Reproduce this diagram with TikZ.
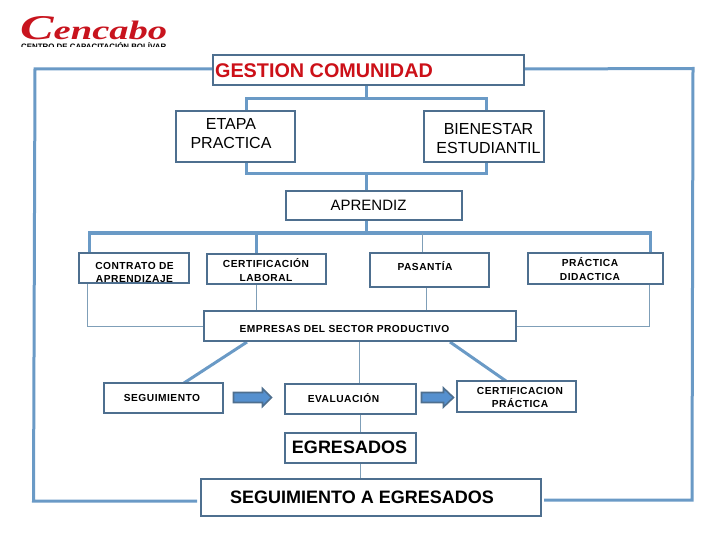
\documentclass[tikz,border=0pt]{standalone}
\usepackage{fontspec}
\setmainfont{Liberation Sans}
\newfontfamily\logofont{Liberation Serif}
\definecolor{boxline}{HTML}{4E6F8F}
\definecolor{link}{HTML}{6A9AC6}
\definecolor{thinlink}{HTML}{7F9FB8}
\definecolor{arrowfill}{HTML}{5590CF}
\definecolor{logored}{HTML}{C8141E}
\definecolor{titlered}{HTML}{CC1018}
% text inside a box, displaced from the box centre by dx, dy
\newcommand{\intxt}[4]{\raisebox{#2pt}[0pt][0pt]{\makebox[0pt]{\hspace*{#1pt}\hspace*{#1pt}#3\begin{tabular}[c]{@{}c@{}}#4\end{tabular}}}}
\newcommand{\bigtxt}[1]{\fontsize{#1}{19pt}\selectfont}
\newcommand{\smalltxt}{\fontsize{10.2}{13.5pt}\selectfont\bfseries\addfontfeature{LetterSpace=5}}
\begin{document}
\begin{tikzpicture}[x=1pt,y=-1pt,
  boxn/.style={draw=boxline,line width=2pt,fill=white,inner sep=0pt,outer sep=0pt},
  linkw/.style={draw=link,line width=3pt},
  linkt/.style={draw=thinlink,line width=1pt},
  blockarrow/.style={draw=boxline,fill=arrowfill,line width=1.6pt}]
\useasboundingbox (0,0) rectangle (720,540);
% junctions and ports
\coordinate (jgest) at (366,85);
\coordinate (jtop) at (366,99);
\coordinate (petop) at (246,111);
\coordinate (pbtop) at (486,111);
\coordinate (pebot) at (246,162);
\coordinate (pbbot) at (486,162);
\coordinate (jmid) at (366,174);
\coordinate (japr) at (366,191);
\coordinate (japrb) at (366,220);
\coordinate (jrow) at (366,233);
\coordinate (pcon) at (89,253);
\coordinate (pcer) at (256,254);
\coordinate (ppas) at (422,253);
\coordinate (ppra) at (650,253);
\coordinate (qcon) at (87.5,284);
\coordinate (qcer) at (256,284);
\coordinate (qpas) at (426,287);
\coordinate (qpra) at (649,284);
\coordinate (remp) at (426,311);
\coordinate (lemp) at (256,311);
\coordinate (yemp) at (300,326);
\coordinate (demp) at (247,342);
\coordinate (fseg) at (184,383);
\coordinate (gemp) at (450,342);
\coordinate (hcer) at (506,381);
\coordinate (memp) at (359,341);
\coordinate (meva) at (359,384);
\coordinate (neva) at (360.5,414);
\coordinate (negr) at (360.5,433);
\coordinate (pegr) at (360,463);
\coordinate (pseg) at (360,479);
\coordinate (oltop) at (35,69);
\coordinate (olbot) at (33.5,501);
\coordinate (oendl) at (197,501);
\coordinate (ortop) at (693,68.5);
\coordinate (orbot) at (692,500);
\coordinate (oendr) at (544,500);
% connectors
\draw[linkw] (jgest) -- (jtop);
\draw[linkw] (petop) -- (246,99) -- (486,99) -- (pbtop);
\draw[linkw] (pebot) -- (246,174) -- (486,174) -- (pbbot);
\draw[linkw] (jmid) -- (japr);
\draw[linkw] (japrb) -- (jrow);
\draw[linkw] (pcon) -- (89,233) -- (650,233) -- (ppra);
\draw[linkw] (pcer) -- (256,233);
\draw[linkt] (ppas) -- (422,233);
\draw[linkt] (qcon) -- (87.5,326) -- (yemp);
\draw[linkt] (qcer) -- (lemp);
\draw[linkt] (qpas) -- (remp);
\draw[linkt] (qpra) -- (649,326) -- (yemp);
\draw[linkw] (demp) -- (fseg);
\draw[linkw] (gemp) -- (hcer);
\draw[linkt] (memp) -- (meva);
\draw[linkt] (neva) -- (negr);
\draw[linkt] (pegr) -- (pseg);
\draw[linkw] (213,69) -- (oltop) -- (olbot) -- (oendl);
\draw[linkw] (524,69) -- (ortop) -- (orbot) -- (oendr);
% boxes
\node[boxn,minimum width=311pt,minimum height=30pt] (gest) at (368.5,70) {\intxt{-44.5}{-9}{\bigtxt{19.8}\bfseries\color{titlered}}{GESTION COMUNIDAD}};
\node[boxn,minimum width=119pt,minimum height=51pt] (etapa) at (235.5,136.5) {\intxt{-4.5}{-3}{\bigtxt{16}}{ETAPA\\PRACTICA}};
\node[boxn,minimum width=120pt,minimum height=51pt] (bien) at (484,136.5) {\intxt{4.5}{-8}{\bigtxt{16}}{BIENESTAR\\ESTUDIANTIL}};
\node[boxn,minimum width=176pt,minimum height=29pt] (apr) at (374,205.5) {\intxt{-5.5}{-4.5}{\bigtxt{15}}{APRENDIZ}};
\node[boxn,minimum width=110pt,minimum height=30pt] (con) at (134,268) {\intxt{.5}{-8}{\smalltxt}{CONTRATO DE\\APRENDIZAJE}};
\node[boxn,minimum width=119pt,minimum height=30pt] (cer) at (266.5,269) {\intxt{-.5}{-5.5}{\smalltxt}{CERTIFICACIÓN\\LABORAL}};
\node[boxn,minimum width=119pt,minimum height=34pt] (pas) at (429.5,270) {\intxt{-4.5}{-.5}{\smalltxt}{PASANTÍA}};
\node[boxn,minimum width=135pt,minimum height=31pt] (pra) at (595.5,268.5) {\intxt{-5.5}{-5}{\smalltxt}{PRÁCTICA\\DIDACTICA}};
\node[boxn,minimum width=312pt,minimum height=30pt] (emp) at (360,326) {\intxt{-15.5}{-6.5}{\smalltxt}{EMPRESAS DEL SECTOR PRODUCTIVO}};
\node[boxn,minimum width=119pt,minimum height=30pt] (seg) at (163.5,398) {\intxt{-1.5}{-3.5}{\smalltxt}{SEGUIMIENTO}};
\node[boxn,minimum width=131pt,minimum height=30pt] (eva) at (350.5,399) {\intxt{-7}{-3.5}{\smalltxt}{EVALUACIÓN}};
\node[boxn,minimum width=119pt,minimum height=31pt] (cpr) at (516.5,396.5) {\intxt{3.5}{-4.5}{\smalltxt}{CERTIFICACION\\PRÁCTICA}};
\node[boxn,minimum width=131pt,minimum height=30pt] (egr) at (350.5,448) {\intxt{-1}{-6.5}{\bigtxt{18}\bfseries}{EGRESADOS}};
\node[boxn,minimum width=340pt,minimum height=37pt] (sae) at (371,497.5) {\intxt{-9}{-6.5}{\bigtxt{18}\bfseries}{SEGUIMIENTO A EGRESADOS}};
% block arrows
\draw[blockarrow] (233.5,392.5) -- (262.5,392.5) -- (262.5,388.5) -- (271.5,397.5) -- (262.5,406.5) -- (262.5,402.5) -- (233.5,402.5) -- cycle;
\draw[blockarrow] (421.5,392.5) -- (443.5,392.5) -- (443.5,388) -- (453.5,397.5) -- (443.5,407) -- (443.5,402.5) -- (421.5,402.5) -- cycle;
% logo
\node[inner sep=0pt,text=logored,anchor=base west] (logo) at (20,40) {\resizebox{147pt}{23pt}{\logofont\bfseries\itshape\fontsize{30}{30pt}\selectfont C\fontsize{23}{30pt}\selectfont encabo}};
\begin{scope}
\clip (15,42.5) rectangle (175,46.5);
\node[inner sep=0pt,anchor=west] (logotag) at (21,46) {\resizebox{145pt}{!}{\fontsize{6}{7pt}\selectfont\bfseries CENTRO DE CAPACITACIÓN BOLÍVAR}};
\end{scope}
\end{tikzpicture}
\end{document}
